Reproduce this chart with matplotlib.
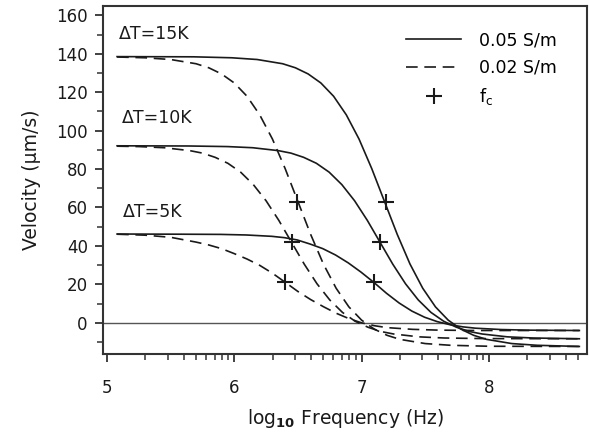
import numpy as np
import matplotlib
matplotlib.use("Agg")
import matplotlib.pyplot as plt
from matplotlib.lines import Line2D
from matplotlib.ticker import FixedLocator, LogLocator, FuncFormatter, MultipleLocator, NullFormatter

plt.rcParams['font.family'] = ['DejaVu Sans']
plt.rcParams['mathtext.fontset'] = 'dejavusans'

# log10 frequency (Hz) and velocity (um/s)
# sigma = 0.05 S/m (solid)
x15_s = [5.08, 5.68, 5.98, 6.18, 6.38, 6.48, 6.58, 6.68, 6.78, 6.88, 6.98, 7.08, 7.18,
         7.28, 7.38, 7.48, 7.58, 7.68, 7.78, 7.88, 7.98, 8.18, 8.38, 8.71]
v15_s = [138.5, 138.4, 137.9, 137.0, 134.8, 132.7, 129.5, 124.8, 117.9, 108.2, 95.6, 80.2, 63.1,
         46.0, 30.6, 18.0, 8.3, 1.4, -3.3, -6.5, -8.6, -10.8, -11.7, -12.3]
x10_s = [5.08, 5.645, 5.945, 6.145, 6.345, 6.445, 6.545, 6.645, 6.745, 6.845, 6.945, 7.045, 7.145,
         7.245, 7.345, 7.445, 7.545, 7.645, 7.745, 7.845, 7.945, 8.145, 8.345, 8.71]
v10_s = [92.1, 92.0, 91.7, 91.1, 89.6, 88.3, 86.1, 83.0, 78.4, 71.9, 63.5, 53.3, 41.9,
         30.5, 20.3, 11.9, 5.4, 0.8, -2.3, -4.5, -5.8, -7.3, -7.9, -8.3]
x5_s = [5.08, 5.595, 5.895, 6.095, 6.295, 6.395, 6.495, 6.595, 6.695, 6.795, 6.895, 6.995, 7.095,
        7.195, 7.295, 7.395, 7.495, 7.595, 7.695, 7.795, 7.895, 8.095, 8.295, 8.71]
v5_s = [46.2, 46.1, 46.0, 45.7, 45.0, 44.3, 43.1, 41.0, 38.6, 35.3, 31.2, 26.4, 21.1,
        15.4, 10.3, 6.1, 2.9, 0.6, -1.0, -2.1, -2.8, -3.5, -3.8, -4.0]

# sigma = 0.02 S/m (dashed)
x15_d = [5.08, 5.3, 5.5, 5.7, 5.8, 5.9, 6.0, 6.1, 6.2, 6.3, 6.4, 6.5,
         6.6, 6.7, 6.8, 6.9, 7.0, 7.1, 7.2, 7.3, 7.5, 7.7, 8.0, 8.71]
v15_d = [138.3, 137.9, 137.0, 134.8, 132.7, 129.5, 124.8, 117.9, 108.2, 95.6, 80.2, 63.1,
         46.0, 30.6, 18.0, 8.3, 1.4, -3.3, -6.5, -8.6, -10.8, -11.7, -12.2, -12.3]
x10_d = [5.08, 5.25, 5.45, 5.65, 5.75, 5.85, 5.95, 6.05, 6.15, 6.25, 6.35, 6.45,
         6.55, 6.65, 6.75, 6.85, 6.95, 7.05, 7.15, 7.25, 7.45, 7.65, 7.95, 8.71]
v10_d = [91.9, 91.7, 91.1, 89.6, 88.3, 86.1, 83.0, 78.4, 71.9, 63.5, 53.3, 41.9,
         30.5, 20.3, 11.9, 5.4, 0.8, -2.3, -4.5, -5.8, -7.3, -7.9, -8.2, -8.3]
x5_d = [5.08, 5.3, 5.5, 5.7, 5.8, 5.9, 6.0, 6.1, 6.2, 6.3, 6.4,
        6.5, 6.6, 6.7, 6.8, 6.9, 7.0, 7.1, 7.2, 7.4, 7.6, 7.9, 8.71]
v5_d = [46.1, 45.6, 44.5, 42.0, 40.5, 38.6, 36.0, 33.2, 29.9, 25.8, 21.1,
        16.3, 12.1, 8.4, 5.0, 2.2, 0.0, -1.5, -2.5, -3.4, -3.8, -4.0, -4.0]

# crossover frequencies f_c
fc_x = [7.19, 7.145, 7.095, 6.49, 6.45, 6.40]
fc_v = [62.8, 42.0, 21.0, 63.0, 42.0, 21.0]

labels_dt = ['\u0394T=15K', '\u0394T=10K', '\u0394T=5K']
label_x = [5.094, 5.115, 5.126]
label_v = [150.3, 106.8, 57.9]

ink = '#1a1a1a'
fig = plt.figure(figsize=(5.89, 4.34), dpi=100)
ax = fig.add_axes([0.175, 0.184, 0.8216, 0.802])

dash = (0, (7, 4))
for xs, vs in [(x15_s, v15_s), (x10_s, v10_s), (x5_s, v5_s)]:
    ax.plot(10 ** np.array(xs), vs, color=ink, lw=1.2)
for xs, vs in [(x15_d, v15_d), (x10_d, v10_d), (x5_d, v5_d)]:
    ax.plot(10 ** np.array(xs), vs, color=ink, lw=1.2, linestyle=dash)
ax.plot(10 ** np.array(fc_x), fc_v, linestyle='none', marker='+', ms=11, mew=1.5, color=ink)

ax.axhline(0, color='#555555', lw=1.0, zorder=0)

for t, lx, lv in zip(labels_dt, label_x, label_v):
    ax.text(10 ** lx, lv, t, fontsize=12.5, va='center', ha='left', color=ink)

ax.set_xscale('log')
ax.set_xlim(10 ** 4.97, 10 ** 8.77)
ax.set_ylim(-16.3, 164.8)
ax.xaxis.set_major_locator(FixedLocator([1e5, 1e6, 1e7, 1e8]))
ax.xaxis.set_major_formatter(FuncFormatter(lambda v, p: f"{np.log10(v):.0f}"))
ax.xaxis.set_minor_locator(LogLocator(base=10, subs=np.arange(2, 10)))
ax.xaxis.set_minor_formatter(NullFormatter())
ax.yaxis.set_major_locator(FixedLocator(np.arange(0, 161, 20)))
ax.yaxis.set_minor_locator(MultipleLocator(10))

ax.tick_params(which='both', direction='out', color='#333333', labelsize=12, labelcolor=ink)
ax.tick_params(which='major', length=6, width=1.3)
ax.tick_params(which='minor', length=4, width=1.1)
ax.tick_params(axis='x', which='major', pad=12)
ax.tick_params(axis='y', which='major', pad=5)
for s in ax.spines.values():
    s.set_color('#333333')
    s.set_linewidth(1.5)

ax.set_xlabel(r'log$_{\mathbf{10}}$ Frequency (Hz)', fontsize=13.5, color=ink, labelpad=7)
ax.set_ylabel('Velocity (\u00b5m/s)', fontsize=13.5, color=ink, labelpad=11)

handles = [Line2D([], [], color=ink, lw=1.2),
           Line2D([], [], color=ink, lw=1.2, linestyle=dash),
           Line2D([], [], color=ink, linestyle='none', marker='+', ms=11, mew=1.5)]
ax.legend(handles, ['0.05 S/m', '0.02 S/m', r'f$_{\mathrm{c}}$'], loc='upper right',
          bbox_to_anchor=(0.952, 0.948), borderaxespad=0, frameon=False, fontsize=12.5,
          handlelength=3.16, handletextpad=1.03, labelspacing=0.55)

fig.savefig('out.png', dpi=100)
